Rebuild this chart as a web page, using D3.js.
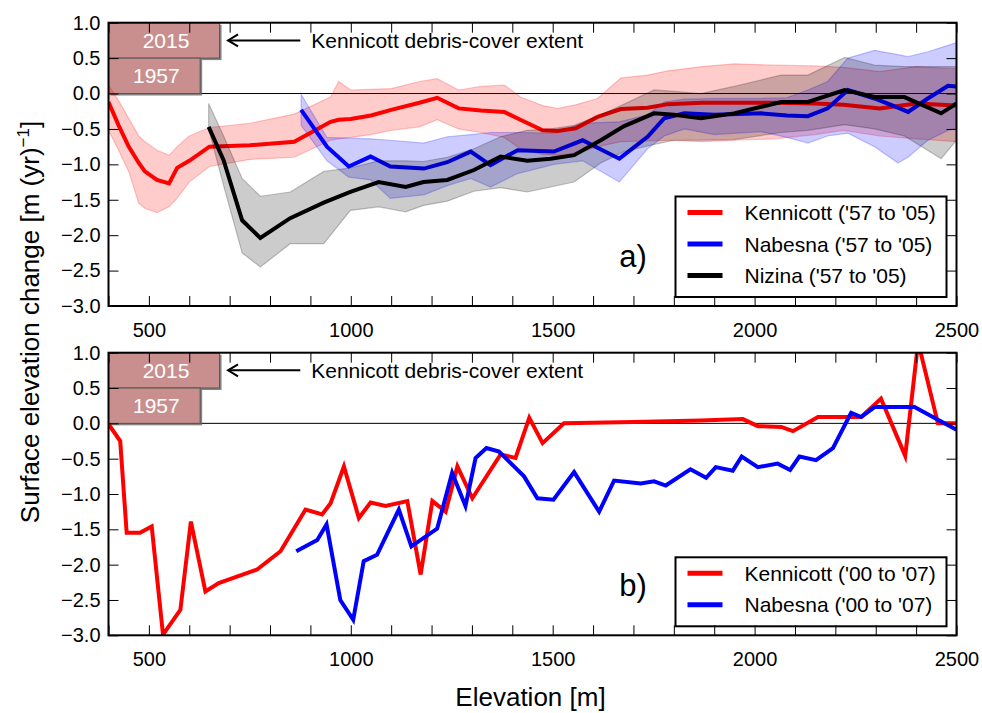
<!DOCTYPE html>
<html lang="en">
<head>
  <meta charset="UTF-8">
  <title>Surface elevation change vs elevation</title>
  <script src="https://cdnjs.cloudflare.com/ajax/libs/d3/7.8.5/d3.min.js"></script>
  <style>
    body { margin: 0; background: #fff; }
    svg { font-family: "Liberation Sans", Arial, sans-serif; }
  </style>
</head>
<body>
<div id="chart"></div>
<script>
  // ---- values ----
  // panel a) '57 to '05, mean line with shaded spread
  const kenA_elev = [400, 425, 450, 475, 490, 520, 550, 570, 600, 650, 750, 860, 950, 970, 1000, 1050, 1100, 1170, 1214, 1267, 1322, 1380, 1420, 1475, 1512, 1557, 1611, 1669, 1735, 1785, 1870, 1950, 2050, 2150, 2220, 2310, 2400, 2500];
  const kenA_mean = [-0.12, -0.45, -0.75, -0.98, -1.1, -1.22, -1.27, -1.05, -0.95, -0.75, -0.73, -0.68, -0.40, -0.37, -0.36, -0.31, -0.23, -0.13, -0.06, -0.21, -0.24, -0.26, -0.37, -0.52, -0.53, -0.49, -0.33, -0.22, -0.20, -0.15, -0.13, -0.13, -0.13, -0.14, -0.16, -0.21, -0.14, -0.17];
  const kenA_high = [0.12, -0.1, -0.35, -0.6, -0.68, -0.8, -0.87, -0.75, -0.6, -0.48, -0.42, -0.29, -0.05, 0.17, 0.05, 0.06, 0.07, 0.17, 0.21, 0.05, 0.1, 0.12, -0.05, -0.17, -0.21, -0.16, -0.07, 0.22, 0.26, 0.32, 0.38, 0.42, 0.40, 0.39, 0.37, 0.31, 0.38, 0.35];
  const kenA_low = [-0.52, -0.8, -1.1, -1.55, -1.62, -1.68, -1.6, -1.48, -1.25, -1.03, -0.93, -0.9, -0.66, -0.64, -0.62, -0.58, -0.52, -0.47, -0.37, -0.5, -0.55, -0.62, -0.78, -0.86, -0.87, -0.85, -0.75, -0.68, -0.67, -0.66, -0.68, -0.66, -0.64, -0.58, -0.52, -0.6, -0.64, -0.68];

  const nabA_elev = [877, 941, 995, 1049, 1098, 1181, 1239, 1297, 1346, 1413, 1503, 1574, 1665, 1735, 1776, 1826, 1900, 2016, 2080, 2132, 2181, 2231, 2297, 2355, 2380, 2429, 2479, 2500];
  const nabA_mean = [-0.23, -0.75, -1.03, -0.89, -1.03, -1.06, -0.97, -0.82, -1.01, -0.80, -0.82, -0.66, -0.92, -0.61, -0.35, -0.28, -0.30, -0.28, -0.31, -0.32, -0.21, 0.05, -0.07, -0.2, -0.26, -0.07, 0.11, 0.10];
  const nabA_high = [-0.01, -0.62, -0.63, -0.64, -0.66, -0.70, -0.61, -0.58, -0.55, -0.55, -0.56, -0.42, -0.40, -0.30, -0.12, -0.08, -0.07, -0.07, -0.06, 0.05, 0.17, 0.5, 0.61, 0.55, 0.52, 0.59, 0.68, 0.72];
  const nabA_low = [-0.45, -0.95, -1.18, -1.22, -1.48, -1.43, -1.30, -1.2, -1.32, -1.13, -1.0, -0.95, -1.25, -0.78, -0.6, -0.5, -0.58, -0.54, -0.62, -0.70, -0.6, -0.56, -0.75, -0.98, -0.9, -0.66, -0.52, -0.49];

  const nizA_elev = [648, 685, 731, 776, 850, 933, 999, 1069, 1136, 1180, 1239, 1305, 1371, 1437, 1495, 1553, 1619, 1677, 1751, 1801, 1867, 1949, 2066, 2132, 2223, 2297, 2371, 2462, 2500];
  const nizA_mean = [-0.47, -0.94, -1.79, -2.04, -1.76, -1.54, -1.39, -1.25, -1.32, -1.25, -1.22, -1.08, -0.89, -0.95, -0.92, -0.87, -0.66, -0.46, -0.28, -0.30, -0.35, -0.28, -0.12, -0.12, 0.05, -0.05, -0.05, -0.28, -0.14];
  const nizA_high = [-0.14, -0.6, -1.2, -1.45, -1.39, -1.1, -1.05, -0.95, -0.95, -0.96, -0.9, -0.78, -0.61, -0.52, -0.5, -0.45, -0.3, -0.15, 0.05, 0.03, 0.0, 0.1, 0.26, 0.26, 0.51, 0.4, 0.38, 0.38, 0.38];
  const nizA_low = [-0.5, -1.3, -2.25, -2.45, -2.12, -2.12, -1.65, -1.6, -1.67, -1.58, -1.52, -1.38, -1.33, -1.39, -1.32, -1.25, -0.98, -0.82, -0.72, -0.66, -0.66, -0.65, -0.55, -0.52, -0.44, -0.5, -0.6, -0.92, -0.66];

  // panel b) '00 to '07
  const kenB_elev = [401, 429, 445, 478, 507, 535, 578, 604, 640, 673, 768, 826, 888, 929, 950, 983, 1020, 1049, 1086, 1140, 1173, 1202, 1235, 1264, 1301, 1371, 1408, 1442, 1475, 1528, 1700, 1867, 1971, 2008, 2066, 2095, 2157, 2264, 2313, 2373, 2405, 2454, 2500];
  const kenB_val = [-0.02, -0.25, -1.55, -1.55, -1.46, -2.99, -2.64, -1.39, -2.38, -2.26, -2.07, -1.81, -1.22, -1.29, -1.13, -0.61, -1.34, -1.12, -1.17, -1.10, -2.14, -1.10, -1.25, -0.61, -1.06, -0.44, -0.49, 0.08, -0.28, 0.0, 0.02, 0.04, 0.06, -0.04, -0.05, -0.11, 0.09, 0.09, 0.35, -0.46, 1.15, 0.0, 0.0];

  const nabB_elev = [865, 917, 940, 974, 1006, 1032, 1065, 1119, 1150, 1214, 1251, 1284, 1309, 1336, 1367, 1429, 1462, 1502, 1553, 1615, 1652, 1718, 1751, 1780, 1841, 1880, 1904, 1946, 1968, 2008, 2057, 2088, 2111, 2152, 2194, 2239, 2264, 2297, 2396, 2454, 2500];
  const nabB_val = [-1.81, -1.65, -1.43, -2.50, -2.78, -1.95, -1.86, -1.22, -1.74, -1.49, -0.70, -1.17, -0.49, -0.35, -0.40, -0.75, -1.06, -1.08, -0.69, -1.25, -0.81, -0.85, -0.82, -0.88, -0.65, -0.77, -0.62, -0.67, -0.47, -0.62, -0.57, -0.66, -0.47, -0.52, -0.35, 0.15, 0.09, 0.23, 0.23, 0.05, -0.09];

  // Kennicott debris-cover extent boxes (upper elevation reached)
  const debrisYears = ["2015", "1957"];
  const debrisElev = [675, 627];

  const legendA = ["Kennicott ('57 to '05)", "Nabesna ('57 to '05)", "Nizina ('57 to '05)"];
  const legendB = ["Kennicott ('00 to '07)", "Nabesna ('00 to '07)"];
  const yTicks = [1.0, 0.5, 0.0, -0.5, -1.0, -1.5, -2.0, -2.5, -3.0];

  // ---- layout ----
  const W = 982, H = 713;
  const left = 108.5, plotW = 848;
  const panels = [{top: 22.7, h: 283.3}, {top: 352.7, h: 282.6}];

  const svg = d3.select("#chart").append("svg")
    .attr("width", W).attr("height", H);

  const x = d3.scaleLinear().domain([400, 2500]).range([0, plotW]);
  const fmt = d => (d < 0 ? "\u2212" : "") + Math.abs(d).toFixed(1);

  function drawPanel(p, idx) {
    const y = d3.scaleLinear().domain([-3, 1]).range([p.h, 0]);
    const g = svg.append("g").attr("transform", `translate(${left},${p.top})`);

    g.append("clipPath").attr("id", "clip" + idx)
      .append("rect").attr("width", plotW).attr("height", p.h);
    const plot = g.append("g").attr("clip-path", `url(#clip${idx})`);

    // zero line
    plot.append("line")
      .attr("x1", 0).attr("x2", plotW)
      .attr("y1", y(0)).attr("y2", y(0))
      .attr("stroke", "#000").attr("stroke-width", 1);

    // debris extent boxes
    debrisYears.forEach((yr, i) => {
      const y0 = y(1 - 0.5 * i), y1 = y(0.5 - 0.5 * i);
      const bw = x(debrisElev[i]) - x(400);
      plot.append("rect")
        .attr("x", 2).attr("y", y0 + 2).attr("width", bw).attr("height", y1 - y0)
        .attr("fill", "#666").attr("opacity", 0.8);
      plot.append("rect")
        .attr("x", 0).attr("y", y0).attr("width", bw).attr("height", y1 - y0)
        .attr("fill", "#c98f8f").attr("stroke", "#555").attr("stroke-width", 1);
      plot.append("text")
        .attr("x", bw / 2 + 2).attr("y", (y0 + y1) / 2 + 7.5)
        .attr("text-anchor", "middle").attr("fill", "#fff")
        .attr("font-size", 21).text(yr);
    });

    // arrow + annotation
    const ay = y(0.75);
    plot.append("line")
      .attr("x1", x(875)).attr("x2", x(698))
      .attr("y1", ay).attr("y2", ay)
      .attr("stroke", "#000").attr("stroke-width", 2);
    plot.append("path")
      .attr("d", `M${x(696) + 10},${ay - 6} L${x(696)},${ay} L${x(696) + 10},${ay + 6}`)
      .attr("stroke", "#000").attr("stroke-width", 2).attr("fill", "none");
    plot.append("text")
      .attr("x", x(902)).attr("y", ay + 7.5)
      .attr("font-size", 21).text("Kennicott debris-cover extent");

    const line = d3.line().x(d => x(d[0])).y(d => y(d[1]));
    const area = d3.area().x(d => x(d[0])).y0(d => y(d[1])).y1(d => y(d[2]));

    function band(elev, lo, hi, color) {
      const pts = elev.map((e, i) => [e, lo[i], hi[i]]);
      plot.append("path").attr("d", area(pts))
        .attr("fill", color).attr("fill-opacity", 0.2)
        .attr("stroke", color).attr("stroke-opacity", 0.22).attr("stroke-width", 1.2);
    }
    function series(elev, vals, color) {
      plot.append("path").attr("d", line(elev.map((e, i) => [e, vals[i]])))
        .attr("fill", "none").attr("stroke", color)
        .attr("stroke-width", 4).attr("stroke-linejoin", "miter");
    }

    let legendItems;
    if (idx === 0) {
      band(kenA_elev, kenA_low, kenA_high, "#ff0000");
      band(nabA_elev, nabA_low, nabA_high, "#0000ff");
      series(kenA_elev, kenA_mean, "#ff0000");
      series(nabA_elev, nabA_mean, "#0000ff");
      band(nizA_elev, nizA_low, nizA_high, "#000000");
      series(nizA_elev, nizA_mean, "#000000");
      legendItems = legendA.map((t, i) => ({t, c: ["#ff0000", "#0000ff", "#000000"][i]}));
    } else {
      series(kenB_elev, kenB_val, "#ff0000");
      series(nabB_elev, nabB_val, "#0000ff");
      legendItems = legendB.map((t, i) => ({t, c: ["#ff0000", "#0000ff"][i]}));
    }

    // panel label
    g.append("text")
      .attr("x", x(1665)).attr("y", y(-2.45))
      .attr("font-size", 31).text(idx === 0 ? "a)" : "b)");

    // legend
    const lh = 31.5, lTop = p.h - 10 - legendItems.length * lh - 5;
    const lg = g.append("g").attr("transform", `translate(${567},${lTop})`);
    lg.append("rect")
      .attr("width", 271).attr("height", legendItems.length * lh + 6)
      .attr("fill", "#fff").attr("stroke", "#000").attr("stroke-width", 2);
    legendItems.forEach((d, i) => {
      const cy = 16 + i * lh;
      lg.append("line").attr("x1", 12).attr("x2", 47)
        .attr("y1", cy).attr("y2", cy)
        .attr("stroke", d.c).attr("stroke-width", 5);
      lg.append("text").attr("x", 69).attr("y", cy + 7.5)
        .attr("font-size", 21).text(d.t);
    });

    // ticks: inward on all sides
    const xt = d3.range(400, 2501, 100);
    g.append("g").attr("transform", `translate(0,${p.h})`)
      .call(d3.axisBottom(x).tickValues(xt).tickSizeInner(-10).tickSizeOuter(0)
        .tickFormat(d => d % 500 === 0 && d > 400 ? d : ""))
      .call(a => a.select(".domain").remove())
      .call(a => a.selectAll("text").attr("font-size", 20).attr("dy", "1.4em")
        .attr("font-family", "Liberation Sans, Arial, sans-serif"));
    g.append("g")
      .call(d3.axisTop(x).tickValues(xt).tickSizeInner(-10).tickSizeOuter(0).tickFormat(""))
      .call(a => a.select(".domain").remove());
    g.append("g")
      .call(d3.axisLeft(y).tickValues(yTicks).tickSizeInner(-10).tickSizeOuter(0).tickFormat(fmt))
      .call(a => a.select(".domain").remove())
      .call(a => a.selectAll("text").attr("font-size", 20).attr("x", -8)
        .attr("font-family", "Liberation Sans, Arial, sans-serif"));
    g.append("g").attr("transform", `translate(${plotW},0)`)
      .call(d3.axisRight(y).tickValues(yTicks).tickSizeInner(-10).tickSizeOuter(0).tickFormat(""))
      .call(a => a.select(".domain").remove());

    // frame
    g.append("rect").attr("width", plotW).attr("height", p.h)
      .attr("fill", "none").attr("stroke", "#000").attr("stroke-width", 2);
  }

  panels.forEach(drawPanel);

  // axis titles
  svg.append("text")
    .attr("transform", "translate(39,322) rotate(-90)")
    .attr("text-anchor", "middle").attr("font-size", 26)
    .call(t => {
      t.append("tspan").text("Surface elevation change [m (yr)");
      t.append("tspan").attr("dy", -10).attr("font-size", 17).text("\u22121");
      t.append("tspan").attr("dy", 10).text("]");
    });
  svg.append("text")
    .attr("x", left + plotW / 2 - 2).attr("y", 706)
    .attr("text-anchor", "middle").attr("font-size", 26)
    .text("Elevation [m]");
</script>
</body>
</html>
